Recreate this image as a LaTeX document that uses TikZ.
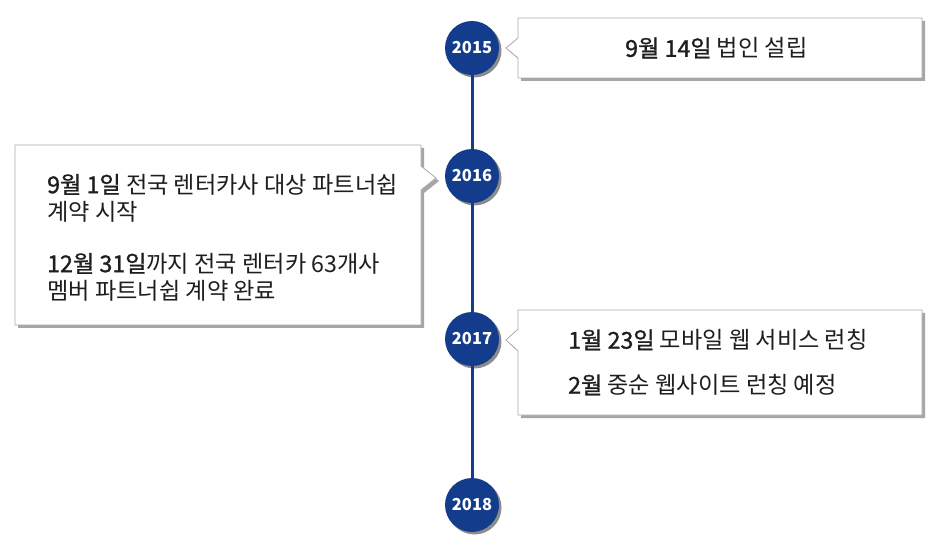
\documentclass[tikz,border=0pt]{standalone}
\usepackage{fontspec}
\newfontfamily\kr{Noto Sans CJK KR}
\newfontfamily\krsemi[FakeBold=1.2]{Noto Sans CJK KR}
\newcommand\eventday[1]{{\krsemi #1}}
\definecolor{yearblue}{RGB}{20,60,140}
\definecolor{boxline}{RGB}{170,170,170}
\definecolor{textdark}{RGB}{30,30,30}
\tikzset{
  year/.style={circle,fill=yearblue,minimum size=54pt,inner sep=0pt,
    text=white,font=\kr\bfseries\fontsize{16.5}{18}\selectfont},
  yearshadow/.style={circle,fill=black!45,minimum size=54pt,inner sep=0pt},
  callout/.style={fill=white,draw=boxline,line width=0.8pt},
  calloutshadow/.style={fill=black!35},
  event/.style={anchor=west,inner sep=0pt,align=left,text=textdark,
    font=\kr\fontsize{23.2}{27}\selectfont},
  timeline/.style={yearblue,line width=3pt}
}
\begin{document}
\begin{tikzpicture}[x=1pt,y=-1pt]
  \useasboundingbox (0,0) rectangle (940,553);
  % shadows of the years
  \foreach \yr/\ypos in {2015/48,2016/176,2017/339,2018/505}
    \node[yearshadow] at (474.5,\ypos+2.5) {};
  % the line between the years
  \coordinate (top) at (472,48);
  \coordinate (bottom) at (472,505);
  \draw[timeline] (top) -- (bottom);
  \node[year] (y2015) at (472,48) {2015};
  \node[year] (y2016) at (472,176) {2016};
  \node[year] (y2017) at (472,339) {2017};
  \node[year] (y2018) at (472,505) {2018};
  % 2015 callout
  \fill[calloutshadow,shift={(3,3)}]
    (518,18) -- (922,18) -- (922,78) -- (518,78) -- (518,58)
    -- (506,48) -- (518,38) -- cycle;
  \filldraw[callout]
    (518,18) -- (922,18) -- (922,78) -- (518,78) -- (518,58)
    -- (506,48) -- (518,38) -- cycle;
  % 2016 callout
  \fill[calloutshadow,shift={(3,3)}]
    (15,145) -- (421,145) -- (421,166) -- (436,178) -- (421,190)
    -- (421,325) -- (15,325) -- cycle;
  \filldraw[callout]
    (15,145) -- (421,145) -- (421,166) -- (436,178) -- (421,190)
    -- (421,325) -- (15,325) -- cycle;
  % 2017 callout
  \fill[calloutshadow,shift={(3,3)}]
    (518,310) -- (922,310) -- (922,415) -- (518,415) -- (518,351)
    -- (506,340) -- (518,329) -- cycle;
  \filldraw[callout]
    (518,310) -- (922,310) -- (922,415) -- (518,415) -- (518,351)
    -- (506,340) -- (518,329) -- cycle;
  % texts
  \node[event] (e2015) at (625,48) {\eventday{9월 14일} 법인 설립};
  \node[event] (e2016a) at (47,198)
    {\eventday{9월 1일} 전국 렌터카사 대상 파트너쉽\\계약 시작};
  \node[event] (e2016b) at (47,277)
    {\eventday{12월 31일}까지 전국 렌터카 63개사\\멤버 파트너쉽 계약 완료};
  \node[event] (e2017a) at (568,340) {\eventday{1월 23일} 모바일 웹 서비스 런칭};
  \node[event] (e2017b) at (568,385) {\eventday{2월} 중순 웹사이트 런칭 예정};
\end{tikzpicture}
\end{document}
